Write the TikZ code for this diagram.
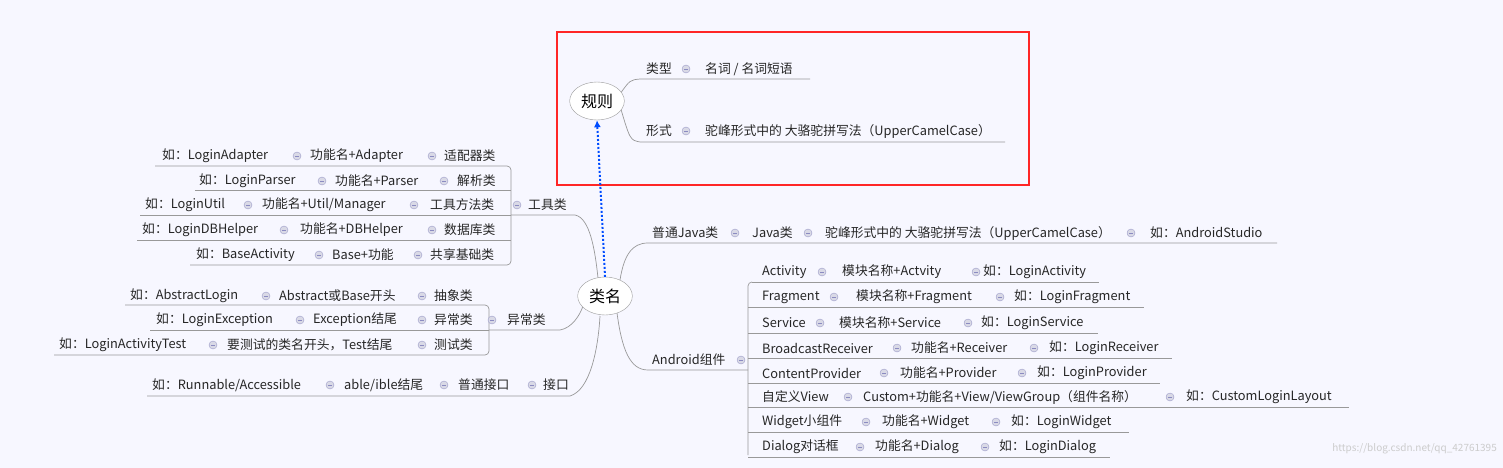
\documentclass[tikz,border=0pt]{standalone}
\usepackage{fontspec}
\setmainfont{Noto Sans CJK SC}
\usetikzlibrary{shapes.geometric,arrows.meta}
\begin{document}
\begin{tikzpicture}[x=1pt,y=-1pt,
 txt/.style={inner sep=0pt,anchor=west,font=\fontsize{12.8}{14}\selectfont,text=black!85},
 ln/.style={draw=gray!80,line width=0.7pt},
 mkc/.style={circle,draw=blue!30!gray!60,fill=blue!20!gray!25,minimum size=8pt,inner sep=0pt},
 topic/.style={ellipse,draw=gray!80,fill=white,minimum width=54pt,minimum height=38pt,font=\fontsize{16}{18}\selectfont}]
\newcommand\tx[3]{\node[txt] at (#1,#2) {#3};}
\newcommand\mk[2]{\node[mkc] at (#1,#2) {}; \draw[blue!30!gray!70,line width=0.6pt] (#1-2,#2) -- (#1+2,#2);}
\fill[blue!3!white] (0,0) rectangle (1503,468);
\useasboundingbox (0,0) rectangle (1503,468);
% rules box
\draw[red!80!black,line width=1.5pt,draw=red!85] (557,32) rectangle (1029,185);
% ---------- rule branch
\draw[ln] (620,94) .. controls (630,80) .. (640,79) -- (810,79);
\draw[ln] (620,106) .. controls (630,140) .. (640,142) -- (1005,142);
\tx{646}{69}{类型}\mk{686}{69}\tx{705}{69}{名词 / 名词短语}
\tx{646}{131}{形式}\mk{686}{131}\tx{705}{131}{驼峰形式中的 大骆驼拼写法（UpperCamelCase）}
\node[topic] (gz) at (597,101) {规则};
% ---------- left block 1
\draw[ln] (155,166) -- (507,166) arc(-90:0:4) -- (511,261) arc(0:90:4) -- (190,265);
\foreach \y/\l in {190/195,215/140,240/137}{\draw[ln] (\l,\y) -- (511,\y);}
\draw[ln] (511,215) -- (575,215) .. controls (590,218) and (595,250) .. (598,278);
\tx{162}{156}{如：LoginAdapter}\mk{297}{156}\tx{310}{156}{功能名+Adapter}\mk{432}{156}\tx{444}{156}{适配器类}
\tx{199}{181}{如：LoginParser}\mk{322}{181}\tx{335}{181}{功能名+Parser}\mk{444}{181}\tx{457}{181}{解析类}
\tx{145}{205}{如：LoginUtil}\mk{248}{205}\tx{262}{205}{功能名+Util/Manager}\mk{414}{205}\tx{430}{205}{工具方法类}
\tx{142}{230}{如：LoginDBHelper}\mk{284}{230}\tx{300}{230}{功能名+DBHelper}\mk{432}{230}\tx{444}{230}{数据库类}
\tx{196}{255}{如：BaseActivity}\mk{319}{255}\tx{332}{255}{Base+功能}\mk{418}{255}\tx{430}{255}{共享基础类}
\mk{517}{205}\tx{528}{205}{工具类}
% ---------- left block 2
\draw[ln] (125,305) -- (485,305) arc(-90:0:4) -- (489,351) arc(0:90:4) -- (54,355);
\draw[ln] (150,330) -- (489,330);
\draw[ln] (489,330) -- (560,330) .. controls (572,328) and (580,315) .. (583,306);
\tx{130}{296}{如：AbstractLogin}\mk{266}{296}\tx{279}{296}{Abstract或Base开头}\mk{422}{296}\tx{434}{296}{抽象类}
\tx{156}{320}{如：LoginException}\mk{300}{320}\tx{313}{320}{Exception结尾}\mk{422}{320}\tx{434}{320}{异常类}
\tx{59}{345}{如：LoginActivityTest}\mk{213}{345}\tx{227}{345}{要测试的类名开头，Test结尾}\mk{422}{345}\tx{434}{345}{测试类}
\mk{492}{320}\tx{507}{320}{异常类}
% interface
\draw[ln] (147,396) -- (570,396) .. controls (590,390) and (598,350) .. (600,316);
\tx{152}{385}{如：Runnable/Accessible}\mk{330}{385}\tx{344}{385}{able/ible结尾}\mk{444}{385}\tx{458}{385}{普通接口}\mk{532}{385}\tx{543}{385}{接口}
% ---------- right
\draw[ln] (620,280) .. controls (624,255) and (632,243) .. (648,243) -- (1277,243);
\tx{652}{233}{普通Java类}\mk{735}{233}\tx{752}{233}{Java类}\mk{808}{233}\tx{825}{233}{驼峰形式中的 大骆驼拼写法（UpperCamelCase）}\mk{1131}{233}\tx{1150}{233}{如：AndroidStudio}
\draw[ln] (617,313) .. controls (622,350) and (630,370) .. (648,370) -- (748,370);
\tx{652}{360}{Android组件}\mk{741}{360}
\draw[ln] (752,282) -- (1099,282);
\draw[ln] (748,455) -- (748,286) arc(180:270:4);
\foreach \y/\r in {307/1144,333/1098,358/1172,383/1160,407/1349,432/1129,457/1110}{\draw[ln] (748,\y) -- (\r,\y);}
\tx{762}{272}{Activity}\mk{822}{272}\tx{842}{272}{模块名称+Actvity}\mk{976}{272}\tx{983}{272}{如：LoginActivity}
\tx{762}{297}{Fragment}\mk{834}{297}\tx{856}{297}{模块名称+Fragment}\mk{1000}{297}\tx{1014}{297}{如：LoginFragment}
\tx{762}{323}{Service}\mk{820}{323}\tx{839}{323}{模块名称+Service}\mk{968}{323}\tx{981}{323}{如：LoginService}
\tx{762}{348}{BroadcastReceiver}\mk{897}{348}\tx{911}{348}{功能名+Receiver}\mk{1034}{348}\tx{1049}{348}{如：LoginReceiver}
\tx{762}{373}{ContentProvider}\mk{884}{373}\tx{900}{373}{功能名+Provider}\mk{1022}{373}\tx{1037}{373}{如：LoginProvider}
\tx{762}{397}{自定义View}\mk{848}{397}\tx{863}{397}{Custom+功能名+View/ViewGroup（组件名称）}\mk{1170}{397}\tx{1186}{397}{如：CustomLoginLayout}
\tx{762}{422}{Widget小组件}\mk{866}{422}\tx{882}{422}{功能名+Widget}\mk{996}{422}\tx{1011}{422}{如：LoginWidget}
\tx{762}{447}{Dialog对话框}\mk{860}{447}\tx{875}{447}{功能名+Dialog}\mk{985}{447}\tx{999}{447}{如：LoginDialog}
% central
\node[topic] (lm) at (605,296) {类名};
\draw[blue!70!cyan,dotted,line width=2pt,-{Latex[length=7pt,width=7pt]}] (lm.north) -- (gz.south);
\node[txt,anchor=east,text=gray!40,font=\fontsize{10}{12}\selectfont] (wm) at (1497,449) {https://blog.csdn.net/qq\_42761395};
\end{tikzpicture}
\end{document}
